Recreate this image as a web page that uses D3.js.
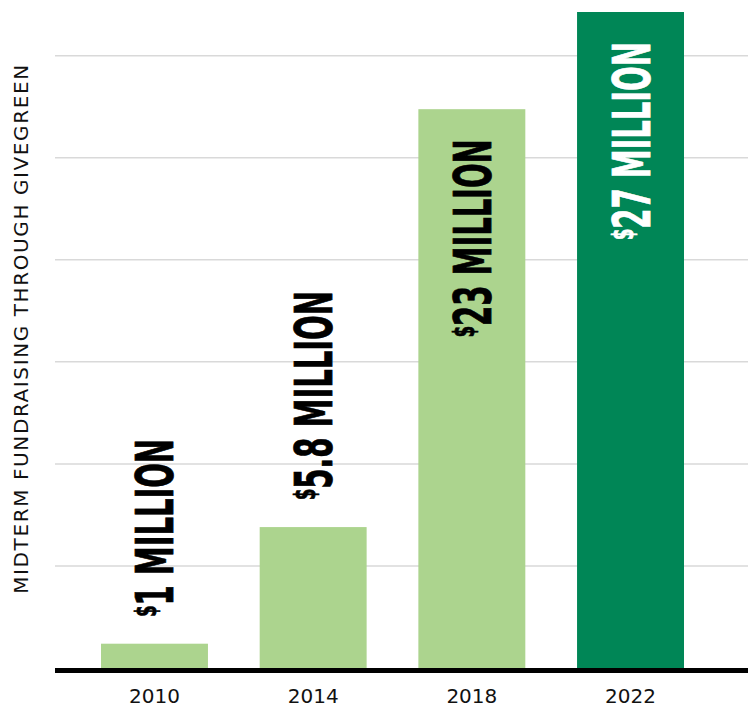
<!DOCTYPE html>
<html lang="en">
<head>
    <meta charset="UTF-8">
    <title>Midterm fundraising through GiveGreen</title>
    <script src="https://d3js.org/d3.v7.min.js"></script>
    <style>
        body { margin: 0; background: #fff; }
        .grid line { stroke: #d9d9d9; stroke-width: 1.5px; }
        .year { font-family: "DejaVu Sans", sans-serif; font-size: 20px; fill: #111; }
        .ytitle { font-family: "DejaVu Sans", sans-serif; font-size: 20px; fill: #111; }
        .val { font-family: "Liberation Sans Narrow", "DejaVu Sans Condensed", sans-serif; font-weight: bold; font-size: 52px; stroke-width: 0.8px; }
    </style>
</head>
<body>
    <svg id="chart" width="748" height="708"></svg>

    <script>
        // chart data (millions of dollars)
        const years = ["2010", "2014", "2018", "2022"];
        const amounts = [1, 5.8, 23, 27];
        const labels = ["1 MILLION", "5.8 MILLION", "23 MILLION", "27 MILLION"];
        const barColors = ["#acd48e", "#acd48e", "#acd48e", "#008656"];
        const gridValues = [4.2, 8.4, 12.6, 16.8, 21, 25.2];

        const svg = d3.select("#chart");

        const x = d3.scaleBand().domain(years).range([101, 684]).paddingInner(0.326);
        const y = d3.scaleLinear().domain([0, 27]).range([668, 12]);

        // gridlines
        svg.append("g").attr("class", "grid")
            .selectAll("line")
            .data(gridValues)
            .enter().append("line")
            .attr("x1", 55).attr("x2", 748)
            .attr("y1", d => y(d)).attr("y2", d => y(d));

        // bars
        svg.append("g")
            .selectAll("rect")
            .data(years)
            .enter().append("rect")
            .attr("x", d => x(d))
            .attr("width", x.bandwidth())
            .attr("y", (d, i) => y(amounts[i]))
            .attr("height", (d, i) => y(0) - y(amounts[i]))
            .attr("fill", (d, i) => barColors[i]);

        // baseline
        svg.append("line")
            .attr("x1", 55).attr("x2", 748)
            .attr("y1", y(0) + 2.5).attr("y2", y(0) + 2.5)
            .style("stroke", "#000").style("stroke-width", 5);

        // year labels
        svg.append("g")
            .selectAll("text")
            .data(years)
            .enter().append("text")
            .attr("class", "year")
            .attr("x", d => x(d) + x.bandwidth() / 2)
            .attr("y", 703)
            .attr("text-anchor", "middle")
            .text(d => d);

        // value labels, rotated; inside the tall bars, above the short ones
        const capH = 38;
        const squeeze = 0.62;
        const val = svg.append("g")
            .selectAll("g")
            .data(years)
            .enter().append("g")
            .attr("transform", (d, i) => {
                const cx = x(d) + x.bandwidth() / 2 + capH / 2;
                const top = y(amounts[i]);
                const inside = amounts[i] > 15;
                const ty = inside ? top + 30 : top - 27;
                return `translate(${cx},${ty}) rotate(-90) scale(${squeeze},1)`;
            });

        const t = val.append("text")
            .attr("class", "val")
            .attr("text-anchor", (d, i) => amounts[i] > 15 ? "end" : "start")
            .attr("fill", (d, i) => i === 3 ? "#fff" : "#000")
            .attr("stroke", (d, i) => i === 3 ? "#fff" : "#000");
        t.append("tspan")
            .attr("font-size", 29)
            .attr("dy", -17)
            .text("$");
        t.append("tspan")
            .attr("dy", 17)
            .text((d, i) => labels[i]);

        // y axis title
        svg.append("text")
            .attr("class", "ytitle")
            .attr("transform", "translate(28,328.5) rotate(-90)")
            .attr("text-anchor", "middle")
            .attr("letter-spacing", 1.6)
            .text("MIDTERM FUNDRAISING THROUGH GIVEGREEN");
    </script>
</body>
</html>
